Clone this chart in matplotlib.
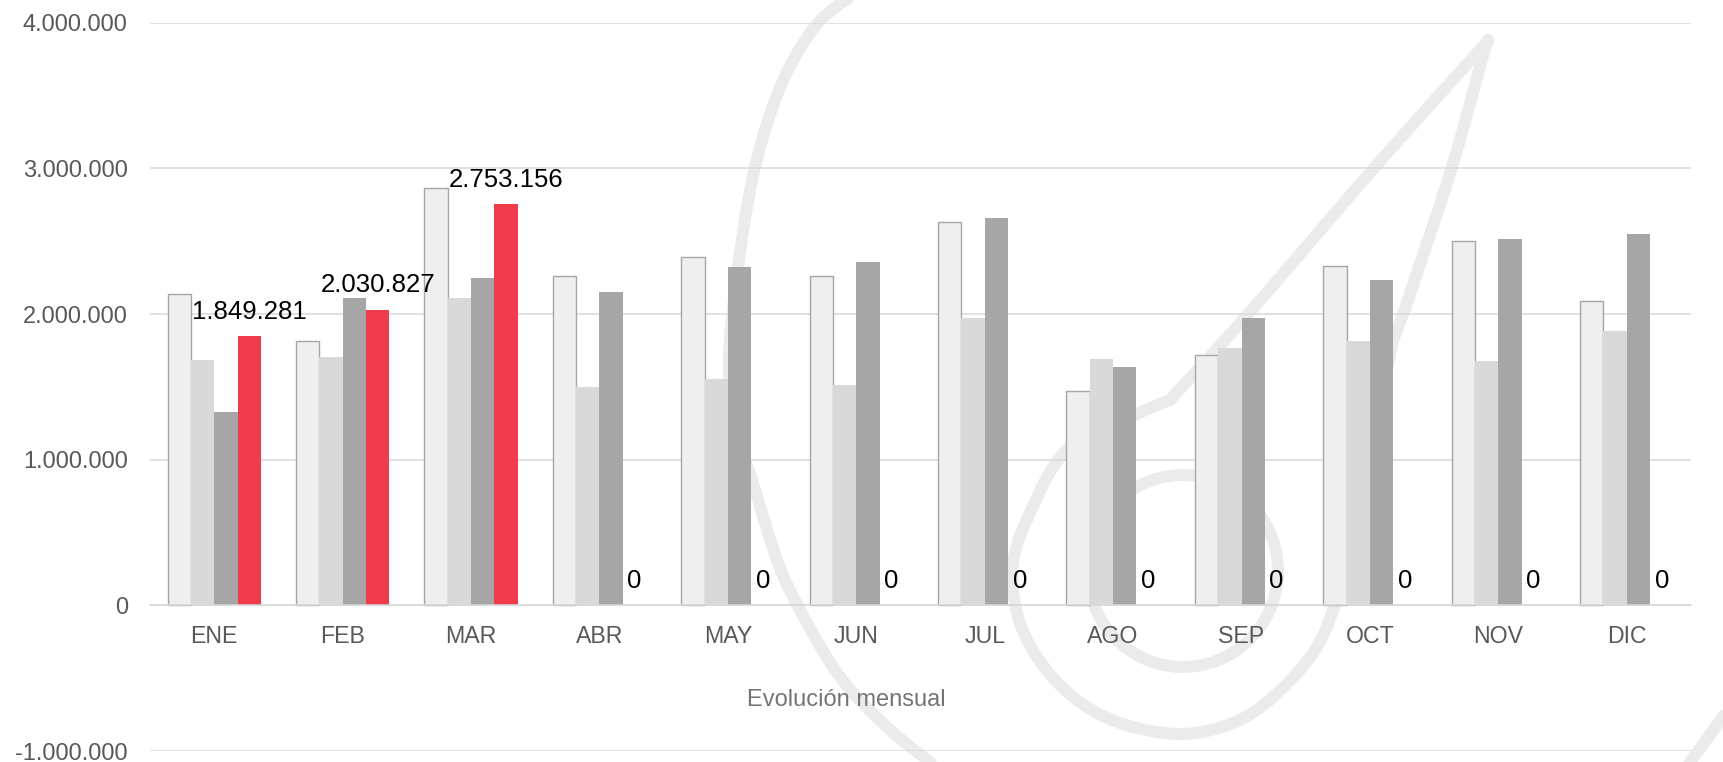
import numpy as np
import matplotlib.pyplot as plt

plt.rcParams['font.family'] = ['Liberation Sans', 'DejaVu Sans']

# datos
meses = ['ENE', 'FEB', 'MAR', 'ABR', 'MAY', 'JUN', 'JUL', 'AGO', 'SEP', 'OCT', 'NOV', 'DIC']
serie_1 = [2135000, 1816000, 2868000, 2261000, 2389000, 2261000, 2632000, 1470000, 1719000, 2328000, 2504000, 2089000]
serie_2 = [1681000, 1704000, 2112000, 1502000, 1553000, 1516000, 1973000, 1689000, 1770000, 1815000, 1676000, 1880000]
serie_3 = [1326000, 2107000, 2247000, 2151000, 2325000, 2358000, 2656000, 1635000, 1970000, 2232000, 2514000, 2547000]
serie_4 = [1849281, 2030827, 2753156, 0, 0, 0, 0, 0, 0, 0, 0, 0]

colores = ['#efefef', '#d9d9d9', '#a6a6a6', '#ef3b4c']
y_ticks = [-1000000, 0, 1000000, 2000000, 3000000, 4000000]


def suave(puntos, n=20):
    # curva catmull-rom por los puntos dados
    p = np.array(puntos, dtype=float)
    p = np.vstack([p[0], p, p[-1]])
    out = []
    for i in range(1, len(p) - 2):
        p0, p1, p2, p3 = p[i - 1], p[i], p[i + 1], p[i + 2]
        t = np.linspace(0, 1, n)[:, None]
        out.append(0.5 * ((2 * p1) + (-p0 + p2) * t + (2 * p0 - 5 * p1 + 4 * p2 - p3) * t ** 2
                          + (-p0 + 3 * p1 - 3 * p2 + p3) * t ** 3))
    return np.vstack(out)


fig = plt.figure(figsize=(17.23, 7.62), dpi=100)

# marca de agua de fondo (pixeles de la figura)
wm = fig.add_axes([0, 0, 1, 1], zorder=0)
wm.set_xlim(0, 1723)
wm.set_ylim(762, 0)
wm.axis('off')
trazos = [
    [(861, -10), (818, 23), (782, 83), (755, 167), (738, 267), (729, 360), (735, 430),
     (752, 480), (777, 560), (800, 610), (840, 677), (887, 727), (927, 760), (945, 775)],
    [(1170, 400), (1137, 414), (1067, 450), (1030, 513), (1013, 563), (1017, 613), (1037, 657),
     (1073, 697), (1120, 723), (1180, 734), (1233, 723), (1273, 697), (1313, 653), (1335, 605),
     (1352, 540), (1372, 450), (1391, 350), (1408, 300), (1452, 167), (1484, 52), (1488, 42)],
    [(1486, 44), (1478, 52), (1375, 167), (1249, 313), (1170, 400)],
    [(1740, 695), (1723, 717), (1690, 762), (1680, 775)],
]
for tr in trazos:
    c = suave(tr)
    wm.plot(c[:, 0], c[:, 1], color='#ebebeb', lw=8.6, solid_capstyle='round', solid_joinstyle='round')
ang = np.linspace(0, 2 * np.pi, 200)
wm.plot(1183 + 95 * np.cos(ang), 571 + 96 * np.sin(ang), color='#ebebeb', lw=8.6)

# grafico principal
ax = fig.add_axes([150 / 1723, 11 / 762, 1541 / 1723, 728.3 / 762], zorder=1)
ax.patch.set_alpha(0)

x = np.arange(len(meses))
w = 1 / 5.5
series = [serie_1, serie_2, serie_3, serie_4]
for k, (vals, col) in enumerate(zip(series, colores)):
    pos = x + (k - 1.5) * w
    if k == 0:
        ax.bar(pos, vals, w, color=col, edgecolor='#a6a6a6', linewidth=1.0, zorder=2)
    else:
        ax.bar(pos, vals, w, color=col, linewidth=0, zorder=2)
    if k == 3:
        for xi, v in zip(pos, vals):
            txt = f'{v:,}'.replace(',', '.')
            ax.annotate(txt, (xi, v), xytext=(0, 12.5), textcoords='offset points',
                        ha='center', va='baseline', fontsize=18.5, color='black', zorder=3)

ax.set_xlim(-0.5, 11.5)
ax.set_ylim(-1000000, 4000000)
ax.set_yticks(y_ticks)
ax.set_yticklabels([f'{v:,}'.replace(',', '.') for v in y_ticks])
ax.set_xticks(x)
ax.set_xticklabels(meses)
ax.grid(axis='y', color='#d9d9d9', linewidth=1.1, zorder=0.5)
ax.set_axisbelow(True)
for s in ['top', 'right', 'left']:
    ax.spines[s].set_visible(False)
ax.spines['bottom'].set_position(('data', 0))
ax.spines['bottom'].set_color('#d9d9d9')
ax.spines['bottom'].set_linewidth(1.1)
ax.tick_params(axis='y', length=0, pad=16, labelsize=17, labelcolor='#595959')
ax.tick_params(axis='x', length=0, pad=14, labelsize=16.7, labelcolor='#595959')

fig.text(846 / 1723, 1 - 700 / 762, 'Evolución mensual', ha='center', va='center',
         fontsize=17, color='#757575')

fig.savefig('out.png', dpi=100)
